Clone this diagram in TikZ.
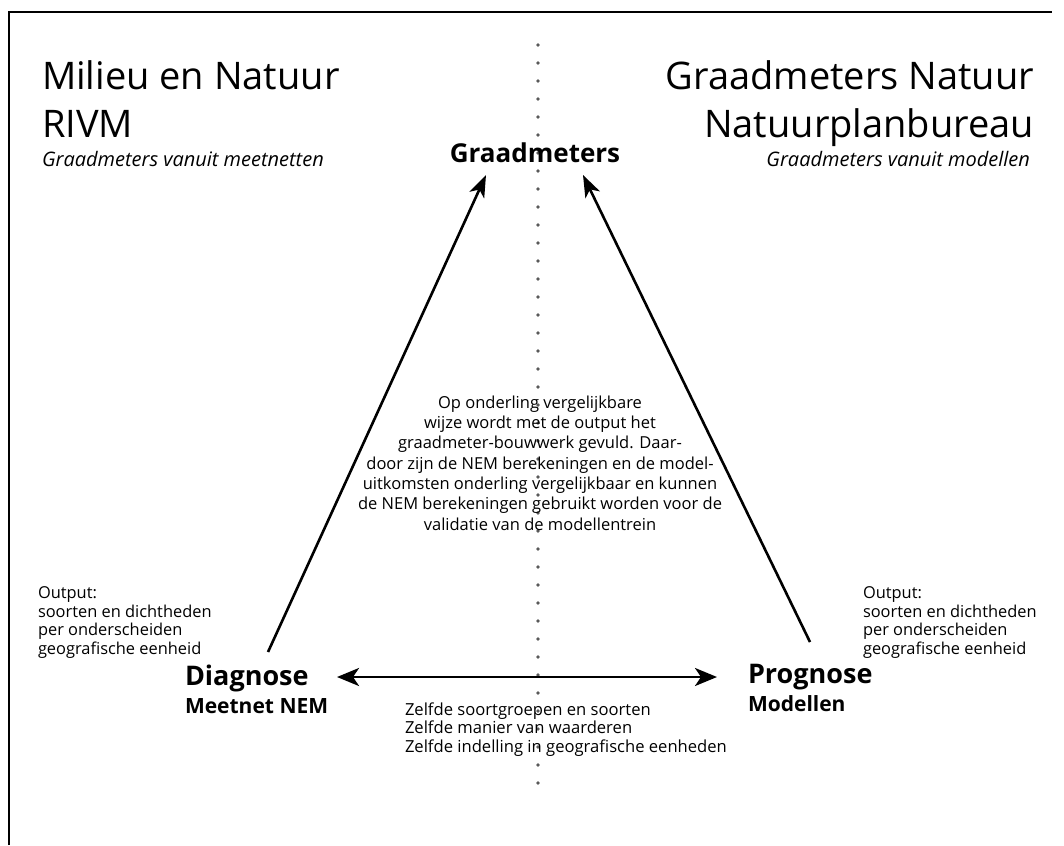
\documentclass[tikz,border=0pt]{standalone}
\usepackage{fontspec}
\setmainfont{Open Sans}
\usetikzlibrary{arrows.meta}
\tikzset{
  lbl/.style={inner sep=0pt, outer sep=0pt},
  titletxt/.style={lbl, font=\fontsize{38}{46}\selectfont},
  subtxt/.style={lbl, font=\fontsize{20}{23}\selectfont\itshape},
  headtxt/.style={lbl, font=\fontsize{26}{30}\selectfont\bfseries},
  bighead/.style={lbl, font=\fontsize{27}{31}\selectfont\bfseries},
  subhead/.style={lbl, font=\fontsize{21}{24}\selectfont\bfseries},
  smalltxt/.style={lbl, font=\fontsize{16.4}{18.5}\selectfont, align=left},
  midtxt/.style={lbl, font=\fontsize{16.5}{20.3}\selectfont, align=center},
  conn/.style={line width=2.6pt, -{Stealth[length=22pt,width=16pt,inset=6pt]}},
  dconn/.style={line width=2.8pt, {Stealth[length=22pt,width=18pt,inset=6pt]}-{Stealth[length=22pt,width=18pt,inset=6pt]}},
  dotline/.style={line width=3.6pt, line cap=round, dash pattern=on 0pt off 18pt, black!65},
  frameline/.style={line width=2pt}
}
\begin{document}
\begin{tikzpicture}[x=1pt,y=-1pt]
\useasboundingbox (0,0) rectangle (1064,845);
\fill[white] (0,0) rectangle (1064,845);
% frame (top and left)
\coordinate (fl) at (9,845);
\coordinate (fc) at (9,12);
\coordinate (fr) at (1052,12);
\draw[frameline] (fl) -- (fc) -- (fr);
% dotted divider
\coordinate (dvtop) at (538,45);
\coordinate (dvbot) at (538,800);
\draw[dotline] (dvtop) -- (dvbot);
% titles
\node[titletxt, anchor=base west] (t1) at (42,90) {Milieu en Natuur};
\node[titletxt, anchor=base west] (t2) at (42,138) {RIVM};
\node[subtxt, anchor=base west] (t3) at (42,167) {Graadmeters vanuit meetnetten};
\node[titletxt, anchor=base east] (t4) at (1034,90) {Graadmeters Natuur};
\node[titletxt, anchor=base east] (t5) at (1034,138) {Natuurplanbureau};
\node[subtxt, anchor=base east] (t6) at (1030,167) {Graadmeters vanuit modellen};
% main nodes
\node[headtxt, anchor=base] (gm) at (535,163) {Graadmeters};
\node[bighead, anchor=base west] (diag) at (185,685) {Diagnose};
\node[subhead, anchor=base west] (meet) at (185,713) {Meetnet NEM};
\node[bighead, anchor=base west] (prog) at (748,683) {Prognose};
\node[subhead, anchor=base west] (mod) at (748,711) {Modellen};
% output texts (anchor base = last line)
\node[smalltxt, anchor=base west] (outl) at (38,654) {Output:\\soorten en dichtheden\\per onderscheiden\\geografische eenheid};
\node[smalltxt, anchor=base west] (outr) at (863,654) {Output:\\soorten en dichtheden\\per onderscheiden\\geografische eenheid};
% middle text
\node[midtxt, anchor=base] (mid) at (540,530) {Op onderling vergelijkbare\\wijze wordt met de output het\\graadmeter-bouwwerk gevuld. Daar-\\door zijn de NEM berekeningen en de model-\\uitkomsten onderling vergelijkbaar en kunnen\\de NEM berekeningen gebruikt worden voor de\\validatie van de modellentrein};
% bottom text
\node[smalltxt, font=\fontsize{16.6}{18.5}\selectfont, anchor=base west] (same) at (405,752) {Zelfde soortgroepen en soorten\\Zelfde manier van waarderen\\Zelfde indelling in geografische eenheden};
% connectors
\coordinate (dgA) at (268,652);
\coordinate (gmL) at (486,175);
\coordinate (pgA) at (810,642);
\coordinate (gmR) at (583,175);
\coordinate (dR) at (337,677);
\coordinate (pL) at (717,677);
\draw[conn] (dgA) -- (gmL);
\draw[conn] (pgA) -- (gmR);
\draw[dconn] (dR) -- (pL);
\end{tikzpicture}
\end{document}
